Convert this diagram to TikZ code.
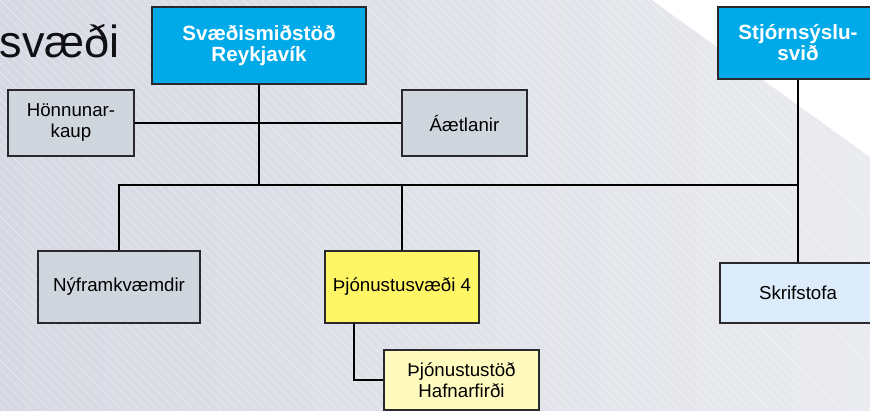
\documentclass[tikz,border=0pt]{standalone}
\usepackage{fontspec}
\setmainfont{Liberation Sans}
\definecolor{bgleft}{RGB}{214,217,227}
\definecolor{bgright}{RGB}{234,235,240}
\definecolor{topblue}{RGB}{0,170,233}
\definecolor{boxgrey}{RGB}{208,214,222}
\definecolor{boxyellow}{RGB}{255,246,102}
\definecolor{boxpale}{RGB}{255,250,190}
\definecolor{boxlblue}{RGB}{220,236,250}
\definecolor{edge}{RGB}{40,40,45}
\tikzset{
  box/.style={draw=edge, line width=1.3pt, rectangle, inner sep=0pt, align=center,
    font=\fontsize{18.7}{21}\selectfont, text=black},
  headbox/.style={box, fill=topblue, text=white, font=\bfseries\fontsize{20.6}{21}\selectfont},
  conn/.style={draw=black, line width=2pt}
}
\begin{document}
\begin{tikzpicture}[x=1pt,y=-1pt]
\useasboundingbox (0,0) rectangle (870,410);
\clip (0,0) rectangle (870,410);
% background
\shade[left color=bgleft, right color=bgright] (0,0) rectangle (870,410);
\fill[white] (652,0) -- (870,0) -- (870,157) -- cycle;
\begin{scope}
\clip (0,0) -- (652,0) -- (870,157) -- (870,410) -- (0,410) -- cycle;
\foreach \i in {-50,...,100} {
  \draw[white, opacity=0.45, line width=0.5pt] (\i*9,0) -- (\i*9+410,410);
}
\end{scope}
% title
\node[anchor=base east, inner sep=0pt, font=\fontsize{45}{50}\selectfont, text={rgb,255:red,15;green,15;blue,20}] (title) at (120,57) {svæði};
% boxes
\node[headbox, minimum width=214pt, minimum height=77pt] (sv) at (259,45.5) {Svæðismiðstöð\\Reykjavík};
\node[headbox, minimum width=160pt, minimum height=72pt] (stj) at (798,43) {Stjórnsýslu-\\svið};
\node[box, fill=boxgrey, minimum width=126pt, minimum height=66pt] (hon) at (71,123) {Hönnunar-\\kaup};
\node[box, fill=boxgrey, minimum width=125pt, minimum height=66pt] (aet) at (464.5,123) {Áætlanir};
\node[box, fill=boxgrey, minimum width=162pt, minimum height=72pt] (ny) at (119,287) {Nýframkvæmdir};
\node[box, fill=boxyellow, minimum width=154pt, minimum height=72pt] (thj) at (402,287) {Þjónustusvæði 4};
\node[box, fill=boxlblue, minimum width=156pt, minimum height=60pt] (skr) at (798,293) {Skrifstofa};
\node[box, fill=boxpale, minimum width=155pt, minimum height=60pt] (haf) at (461.5,380) {Þjónustustöð\\Hafnarfirði};
% connectors
\coordinate (bus) at (798,185);
\draw[conn] (hon.east) -- (aet.west);
\draw[conn] (sv.south) -- (sv.south |- bus);
\draw[conn] (ny.north) |- (bus);
\draw[conn] (thj.north) -- (thj.north |- bus);
\draw[conn] (stj.south) -- (skr.north);
\draw[conn] ([xshift=-48pt]thj.south) |- (haf.west);
\end{tikzpicture}
\end{document}
